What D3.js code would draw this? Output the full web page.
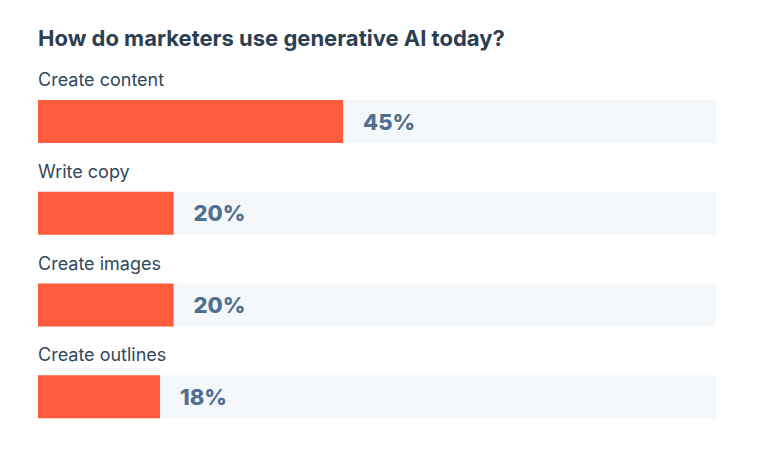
<!DOCTYPE html>
<html><head><meta charset="utf-8">
<script src="https://cdn.jsdelivr.net/npm/d3@7"></script>
<style>body{margin:0;background:#fff;}</style>
</head><body><div id="chart"></div>
<script>
var categories = ["Create content", "Write copy", "Create images", "Create outlines"];
var values = [45, 20, 20, 18];
var title = "How do marketers use generative AI today?";

var svg = d3.select("#chart").append("svg").attr("width", 760).attr("height", 456);
var font = "Inter, 'Open Sans', sans-serif";

svg.append("text").text(title)
	.attr("x", 38).attr("y", 46)
	.attr("font-family", font).attr("font-weight", 700)
	.attr("font-size", 22).attr("fill", "#2d3e50");

var x = d3.scaleLinear().domain([0, 100]).range([38, 716]);
var y = d3.scaleBand().domain(categories).range([58, 425]).paddingInner(0);
var bh = 43; // bar height

var g = svg.selectAll("g.row").data(categories).enter().append("g")
	.attr("transform", function(d) { return "translate(0," + y(d) + ")"; });

g.append("text").text(function(d) { return d; })
	.attr("x", 38).attr("y", 28)
	.attr("font-family", font).attr("font-size", 18).attr("fill", "#33475b");

g.append("rect").attr("x", x(0)).attr("y", 42)
	.attr("width", x(100) - x(0)).attr("height", bh).attr("fill", "#f5f8fa");

g.append("rect").attr("x", x(0)).attr("y", 42)
	.attr("width", function(d, i) { return x(values[i]) - x(0); })
	.attr("height", bh).attr("fill", "#ff5c3e");

g.append("text").text(function(d, i) { return values[i] + "%"; })
	.attr("x", function(d, i) { return x(values[i]) + 20; })
	.attr("y", 42 + bh / 2 + 8)
	.attr("font-family", font).attr("font-weight", 800)
	.attr("font-size", 22).attr("fill", "#516f90");
</script></body></html>
